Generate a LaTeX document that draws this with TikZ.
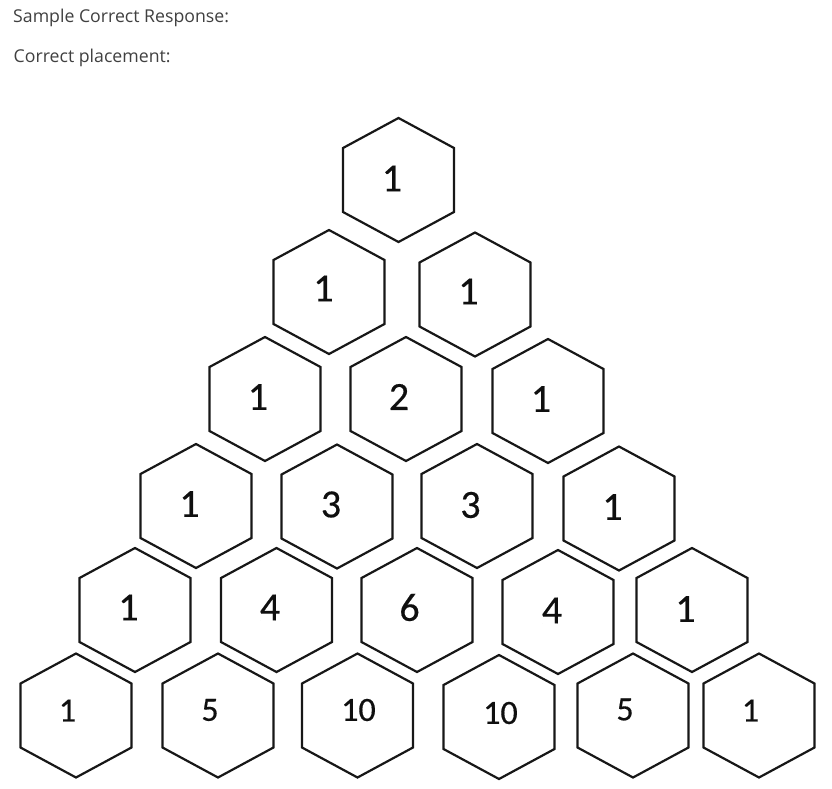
\documentclass[tikz,border=0pt]{standalone}
\usepackage{fontspec}
\setmainfont{Carlito}
\newfontfamily\headfont{Open Sans}
\newfontfamily\numfont[FakeBold=0.4]{Carlito}

\newlength{\du}
\setlength{\du}{1pt}

\definecolor{hexlinecolor}{rgb}{0.090000, 0.090000, 0.090000}
\definecolor{headcolor}{rgb}{0.250000, 0.250000, 0.250000}
\definecolor{numcolor}{rgb}{0.060000, 0.060000, 0.060000}

\tikzset{
  hexline/.style={draw=hexlinecolor, line width=2.2\du, line join=miter},
  headtext/.style={anchor=base west, inner sep=0pt, text=headcolor, font=\headfont\fontsize{17.7}{21}\selectfont},
  numtext/.style={anchor=center, inner sep=0pt, text=numcolor, font=\numfont\fontsize{40}{48}\selectfont},
  numtextsmall/.style={numtext, font=\numfont\fontsize{34}{40}\selectfont}
}

% one hexagon cell round its centre
\newcommand{\hexcell}[2]{%
  \draw[hexline] (#1,#2) ++(0,-62) -- ++(55.5,30) -- ++(0,64) -- ++(-55.5,30)
    -- ++(-55.5,-30) -- ++(0,-64) -- cycle;}

\begin{document}
\begin{tikzpicture}[x=\du, y=-\du]
\useasboundingbox (0,0) rectangle (832,789);
% heading
\node[headtext] (sample) at (13,23) {Sample Correct Response:};
\node[headtext] (placement) at (13.5,63) {Correct placement:};
% row 1
\hexcell{398.5}{180}
\node[numtext] (r1c1) at (392,178.5) {1};
% row 2
\hexcell{329}{292}
\node[numtext] (r2c1) at (323.5,288.5) {1};
\hexcell{475}{294.5}
\node[numtext] (r2c2) at (468.5,291.5) {1};
% row 3
\hexcell{265}{399}
\node[numtext] (r3c1) at (258,397) {1};
\hexcell{406}{399}
\node[numtext] (r3c2) at (399,397) {2};
\hexcell{548}{401}
\node[numtext] (r3c3) at (541,399) {1};
% row 4
\hexcell{196}{506}
\node[numtext] (r4c1) at (189.5,504) {1};
\hexcell{337}{506.5}
\node[numtext] (r4c2) at (331,504.5) {3};
\hexcell{477}{506}
\node[numtext] (r4c3) at (470.5,505) {3};
\hexcell{619}{508.5}
\node[numtext] (r4c4) at (612.5,507) {1};
% row 5
\hexcell{135}{610}
\node[numtext] (r5c1) at (128.5,607.5) {1};
\hexcell{276.5}{610}
\node[numtext] (r5c2) at (270,607.5) {4};
\hexcell{417}{610}
\node[numtext] (r5c3) at (409.5,607.5) {6};
\hexcell{558}{612}
\node[numtext] (r5c4) at (552,610.5) {4};
\hexcell{692}{610}
\node[numtext] (r5c5) at (685.5,609) {1};
% row 6
\hexcell{76}{715.5}
\node[numtextsmall] (r6c1) at (67.5,710.5) {1};
\hexcell{218}{715.5}
\node[numtextsmall] (r6c2) at (210,710) {5};
\hexcell{357.5}{715.5}
\node[numtextsmall] (r6c3) at (358.5,710) {10};
\hexcell{499}{717}
\node[numtextsmall] (r6c4) at (500.5,713) {10};
\hexcell{633}{715.5}
\node[numtextsmall] (r6c5) at (625,709.5) {5};
\hexcell{759}{715.5}
\node[numtextsmall] (r6c6) at (750.5,710.5) {1};
\end{tikzpicture}
\end{document}
